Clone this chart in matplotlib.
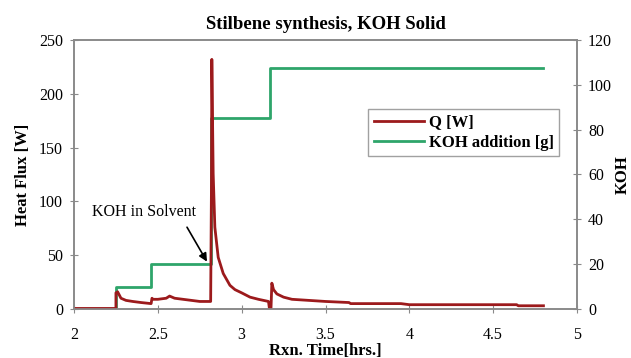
import numpy as np
import matplotlib.pyplot as plt

t_q = [2.00, 2.25, 2.25, 2.26, 2.28, 2.31, 2.35, 2.40, 2.46, 2.465, 2.47, 2.50,
       2.55, 2.57, 2.60, 2.65, 2.70, 2.75, 2.815, 2.82, 2.822, 2.83, 2.84,
       2.86, 2.89, 2.93, 2.96, 3.00, 3.05, 3.10, 3.16, 3.165,
       3.175, 3.18, 3.19, 3.21, 3.25, 3.30, 3.40, 3.50, 3.64, 3.65, 3.95,
       4.00, 4.30, 4.64, 4.65, 4.80]
q = [0.5, 0.5, 15, 16, 10, 8, 7, 6, 5, 10, 9, 9,
     10, 12, 10, 9, 8, 7, 7, 120, 232, 126, 76,
     48, 33, 22, 18, 15, 11, 9, 7, 1,
     1, 24, 18, 14, 11, 9, 8, 7, 6, 5, 5,
     4, 4, 4, 3, 3]

# Ajout de KOH [g] : marches successives
t_koh = [2.00, 2.25, 2.46, 2.82, 3.17, 4.80]
koh = [0, 10, 20, 85, 107.5, 107.5]

rouge = '#9c1a1c'
vert = '#2ea56a'
gris = '#8a8a8a'

plt.rcParams['font.family'] = ['Liberation Serif', 'DejaVu Serif']

fig = plt.figure(figsize=(6.31, 3.58), dpi=100)
ax = fig.add_axes([0.1173, 0.1369, 0.7971, 0.7514])
ax2 = ax.twinx()

l2, = ax2.step(t_koh, koh, where='post', color=vert, lw=2.0, label='KOH addition [g]')
l1, = ax.plot(t_q, q, color=rouge, lw=2.0, label='Q [W]')
ax.set_zorder(ax2.get_zorder() + 1)
ax.patch.set_visible(False)

ax.set_xlim(2, 5)
ax.set_ylim(0, 250)
ax2.set_ylim(0, 120)
ax.set_xticks(np.arange(2, 5.01, 0.5))
ax.set_xticklabels(['2', '2.5', '3', '3.5', '4', '4.5', '5'])
ax.set_yticks(range(0, 251, 50))
ax2.set_yticks(range(0, 121, 20))

for a in (ax, ax2):
    for s in a.spines.values():
        s.set_color(gris)
        s.set_linewidth(1.2)
    a.tick_params(direction='inout', length=6, color=gris, labelsize=11.5, pad=5)
ax.tick_params(axis='x', pad=10)

ax.set_title('Stilbene synthesis, KOH Solid', fontsize=13.5, fontweight='bold', pad=8)
ax.set_xlabel('Rxn. Time[hrs.]', fontsize=12, fontweight='bold', labelpad=0)
ax.set_ylabel('Heat Flux [W]', fontsize=12, fontweight='bold', labelpad=6)
ax2.set_ylabel('KOH', fontsize=12, fontweight='bold', labelpad=2)

ax.annotate('KOH in Solvent', xy=(2.42, 90), ha='center', va='center', fontsize=11.5)
ax.annotate('', xy=(2.793, 44), xytext=(2.674, 76),
            arrowprops=dict(arrowstyle='-|>', color='black', lw=1.2,
                            shrinkA=0, shrinkB=0, mutation_scale=12))

leg = ax.legend([l1, l2], ['Q [W]', 'KOH addition [g]'],
                loc='upper left', bbox_to_anchor=(0.584, 0.745),
                frameon=True, fancybox=False, edgecolor=gris,
                prop={'weight': 'bold', 'size': 12},
                handlelength=3.0, handletextpad=0.3, borderpad=0.35,
                labelspacing=0.25, borderaxespad=0)
leg.get_frame().set_linewidth(1.0)

fig.savefig('out.png', dpi=100)
